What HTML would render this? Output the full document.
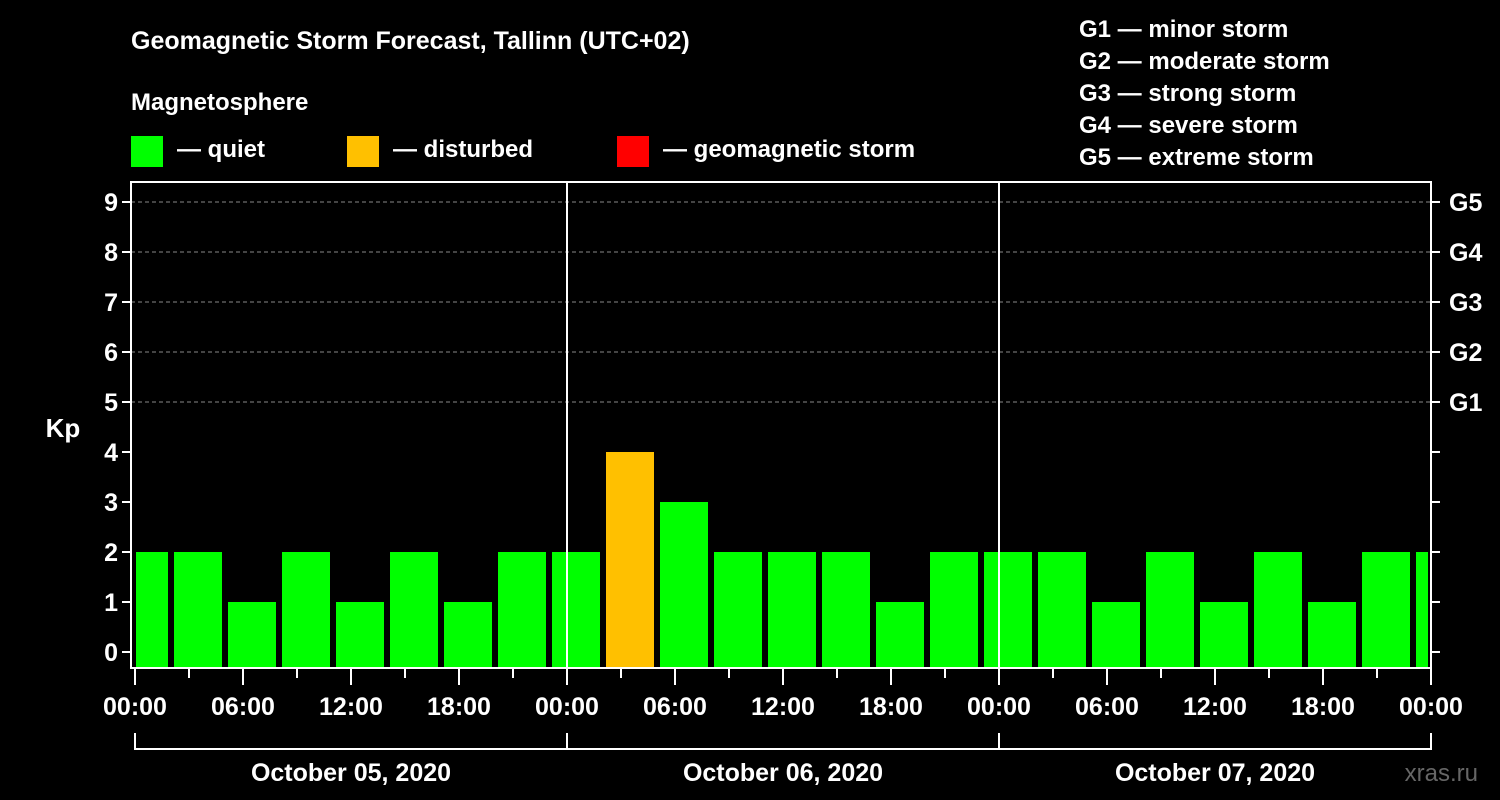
<!DOCTYPE html>
<html><head><meta charset="utf-8"><style>
html,body{margin:0;padding:0;background:#000;}
svg{display:block;font-family:"Liberation Sans",Arial,sans-serif;font-weight:bold;}
</style></head><body>
<svg id="chart" width="1500" height="800" viewBox="0 0 1500 800">
<rect width="1500" height="800" fill="#000"/>
<text x="131" y="49" fill="#fff" font-size="25">Geomagnetic Storm Forecast, Tallinn (UTC+02)</text>
<text x="131" y="110" fill="#fff" font-size="24">Magnetosphere</text>
<g><rect x="131" y="136" width="32" height="31" fill="#00ff00"/><text x="177" y="157" fill="#fff" font-size="24">— quiet</text></g>
<g><rect x="347" y="136" width="32" height="31" fill="#ffc000"/><text x="393" y="157" fill="#fff" font-size="24">— disturbed</text></g>
<g><rect x="617" y="136" width="32" height="31" fill="#ff0000"/><text x="663" y="157" fill="#fff" font-size="24">— geomagnetic storm</text></g>
<g fill="#fff" font-size="24">
<text x="1079" y="37">G1 — minor storm</text>
<text x="1079" y="69">G2 — moderate storm</text>
<text x="1079" y="101">G3 — strong storm</text>
<text x="1079" y="133">G4 — severe storm</text>
<text x="1079" y="165">G5 — extreme storm</text>
</g>
<text x="63" y="437" fill="#fff" font-size="26" text-anchor="middle">Kp</text>
<text x="1478" y="781" fill="#666" font-size="24" text-anchor="end" font-weight="normal">xras.ru</text>
<g id="grid"></g><g id="bars"></g><g id="axes"></g>
</svg>
<script>
const kpValues=[2,2,1,2,1,2,1,2,2,4,3,2,2,2,1,2,2,2,1,2,1,2,1,2,2];
const yTicks=[0,1,2,3,4,5,6,7,8,9];
const gLabels=["G1","G2","G3","G4","G5"];
const timeLabels=["00:00","06:00","12:00","18:00","00:00","06:00","12:00","18:00","00:00","06:00","12:00","18:00","00:00"];
const dayLabels=["October 05, 2020","October 06, 2020","October 07, 2020"];
const NS="http://www.w3.org/2000/svg";
const X0=135,PXH=18,Y0=652,PXK=50,TOP=182,BOT=668,LEFT=131,RIGHT=1431;
const xs=h=>X0+h*PXH, ys=v=>Y0-v*PXK;
function mk(t,a,p){const e=document.createElementNS(NS,t);for(const k in a)e.setAttribute(k,a[k]);p.appendChild(e);return e;}
const grid=document.getElementById('grid'),bars=document.getElementById('bars'),axes=document.getElementById('axes');
yTicks.filter(v=>v>=5).forEach(v=>{const l=mk('line',{x1:LEFT,x2:RIGHT,y1:ys(v),y2:ys(v),stroke:'#888','stroke-dasharray':'4,3','stroke-width':1},grid);

});
kpValues.forEach((v,i)=>{const c=xs(3*i+0.5);let x1=Math.max(c-24,LEFT+5),x2=Math.min(c+24,RIGHT-3);
const col=v>=5?'#ff0000':(v>=4?'#ffc000':'#00ff00');
const r=mk('rect',{x:x1,y:ys(v),width:x2-x1,height:BOT-ys(v),fill:col},bars);

});
mk('rect',{x:LEFT,y:TOP,width:RIGHT-LEFT,height:BOT-TOP,fill:'none',stroke:'#fff','stroke-width':2},axes);
[1,2].forEach(d=>{const l=mk('line',{x1:xs(24*d),x2:xs(24*d),y1:TOP,y2:BOT,stroke:'#fff','stroke-width':2},axes);

});
yTicks.forEach(v=>{mk('line',{x1:LEFT-9,x2:LEFT,y1:ys(v),y2:ys(v),stroke:'#fff','stroke-width':2},axes);
mk('line',{x1:RIGHT,x2:RIGHT+9,y1:ys(v),y2:ys(v),stroke:'#fff','stroke-width':2},axes);
const t=mk('text',{x:LEFT-13,y:ys(v)+9,fill:'#fff','font-size':25,'text-anchor':'end'},axes);t.textContent=v;

});
gLabels.forEach((g,i)=>{const t=mk('text',{x:1449,y:ys(i+5)+9,fill:'#fff','font-size':25},axes);t.textContent=g;

});
for(let h=0;h<=72;h+=3){mk('line',{x1:xs(h),x2:xs(h),y1:BOT,y2:BOT+(h%6==0?17:10),stroke:'#fff','stroke-width':2},axes);}
timeLabels.forEach((s,i)=>{const t=mk('text',{x:xs(6*i),y:715,fill:'#fff','font-size':25,'text-anchor':'middle'},axes);t.textContent=s;

});
mk('line',{x1:xs(0),x2:xs(72),y1:749,y2:749,stroke:'#fff','stroke-width':2},axes);
for(let d=0;d<=3;d++)mk('line',{x1:xs(24*d),x2:xs(24*d),y1:733,y2:750,stroke:'#fff','stroke-width':2},axes);
dayLabels.forEach((s,i)=>{const t=mk('text',{x:xs(24*i+12),y:781,fill:'#fff','font-size':25,'text-anchor':'middle'},axes);t.textContent=s;

});
</script>
</body></html>
